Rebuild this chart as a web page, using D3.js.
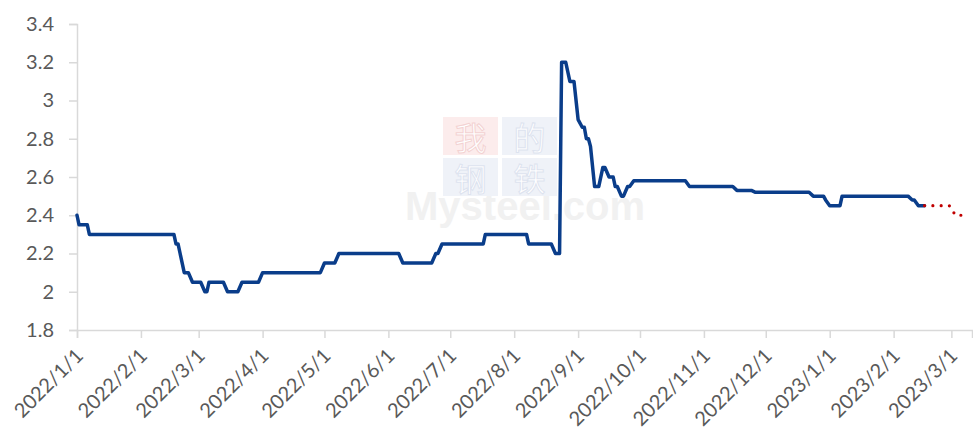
<!DOCTYPE html>
<html>
<head>
<meta charset="utf-8">
<script src="https://cdn.jsdelivr.net/npm/d3@7"></script>
<style>
  body { margin: 0; background: #fff; }
  svg { display: block; }
</style>
</head>
<body>
<div id="chart"></div>
<script>
// Price series (change points of a step-like daily series)
const actualDates = [
  "2022-01-01", "2022-01-02", "2022-01-06", "2022-01-07", "2022-02-17", "2022-02-18", "2022-02-19",
  "2022-02-20", "2022-02-22", "2022-02-24", "2022-02-26", "2022-03-02", "2022-03-04", "2022-03-05",
  "2022-03-06", "2022-03-13", "2022-03-15", "2022-03-20", "2022-03-22", "2022-03-30", "2022-04-01",
  "2022-04-29", "2022-05-01", "2022-05-06", "2022-05-08", "2022-06-06", "2022-06-08", "2022-06-22",
  "2022-06-24", "2022-06-25", "2022-06-27", "2022-07-17", "2022-07-18", "2022-08-07", "2022-08-08",
  "2022-08-19", "2022-08-21", "2022-08-23", "2022-08-24", "2022-08-26", "2022-08-28", "2022-08-30",
  "2022-08-31", "2022-09-01", "2022-09-03", "2022-09-04", "2022-09-05", "2022-09-06", "2022-09-07",
  "2022-09-09", "2022-09-11", "2022-09-13", "2022-09-14", "2022-09-16", "2022-09-18", "2022-09-19",
  "2022-09-20", "2022-09-22", "2022-09-23", "2022-09-25", "2022-09-26", "2022-09-28", "2022-10-23",
  "2022-10-25", "2022-11-15", "2022-11-17", "2022-11-24", "2022-11-26", "2022-12-22", "2022-12-24",
  "2022-12-29", "2022-12-30", "2023-01-01", "2023-01-06", "2023-01-07", "2023-02-08", "2023-02-10",
  "2023-02-11", "2023-02-13", "2023-02-16"
];
const actualValues = [
  2.40, 2.35, 2.35, 2.30, 2.30, 2.25, 2.25,
  2.20, 2.10, 2.10, 2.05, 2.05, 2.00, 2.00,
  2.05, 2.05, 2.00, 2.00, 2.05, 2.05, 2.10,
  2.10, 2.15, 2.15, 2.20, 2.20, 2.15, 2.15,
  2.20, 2.20, 2.25, 2.25, 2.30, 2.30, 2.25,
  2.25, 2.20, 2.20, 3.20, 3.20, 3.10, 3.10,
  3.00, 2.90, 2.86, 2.86, 2.80, 2.80, 2.76,
  2.55, 2.55, 2.65, 2.65, 2.60, 2.60, 2.55,
  2.55, 2.50, 2.50, 2.55, 2.55, 2.58, 2.58,
  2.55, 2.55, 2.53, 2.53, 2.52, 2.52, 2.50,
  2.50, 2.48, 2.45, 2.45, 2.50, 2.50, 2.48,
  2.48, 2.45, 2.45
];

// Forecast (dotted red)
const forecastDates = ["2023-02-16", "2023-02-28", "2023-03-03", "2023-03-09"];
const forecastValues = [2.45, 2.45, 2.40, 2.40];

const yTicks = [1.8, 2.0, 2.2, 2.4, 2.6, 2.8, 3.0, 3.2, 3.4];

const parse = d3.timeParse("%Y-%m-%d");
const actual = actualDates.map((d, i) => ({ date: parse(d), value: actualValues[i] }));
const forecast = forecastDates.map((d, i) => ({ date: parse(d), value: forecastValues[i] }));

const width = 973, height = 434;
const svg = d3.select("#chart").append("svg")
  .attr("width", width)
  .attr("height", height);

const x = d3.scaleTime()
  .domain([parse("2022-01-01"), parse("2023-03-11")])
  .range([77, 972]);

const y = d3.scaleLinear()
  .domain([1.8, 3.4])
  .range([330, 24]);

const gridColor = "#d9d9d9";
const textColor = "#595959";
const font = "Lato, 'Open Sans', sans-serif";

// Watermark
const wm = svg.append("g").attr("class", "watermark");
wm.append("text")
  .attr("x", 405).attr("y", 220)
  .attr("font-family", "'Liberation Sans', Arial, sans-serif")
  .attr("font-weight", "bold")
  .attr("font-size", 40)
  .attr("fill", "#f1f1f1")
  .text("Mysteel.com");
const boxes = [
  { ch: "我", bx: 443, by: 117, fill: "#fcecec", stroke: "#f3d2d2" },
  { ch: "的", bx: 502, by: 117, fill: "#eff2f8", stroke: "#dde3ef" },
  { ch: "钢", bx: 443, by: 158, fill: "#eff2f8", stroke: "#dde3ef" },
  { ch: "铁", bx: 502, by: 158, fill: "#eff2f8", stroke: "#dde3ef" }
];
boxes.forEach(b => {
  wm.append("rect")
    .attr("x", b.bx).attr("y", b.by)
    .attr("width", 55).attr("height", 38)
    .attr("fill", b.fill);
  wm.append("text")
    .attr("x", b.bx + 27.5).attr("y", b.by + 19)
    .attr("text-anchor", "middle")
    .attr("dominant-baseline", "central")
    .attr("font-family", "'Noto Sans CJK SC', sans-serif")
    .attr("font-size", 32)
    .attr("fill", "#ffffff")
    .attr("stroke", b.stroke)
    .attr("stroke-width", 1)
    .text(b.ch);
});

// Y axis
const yAxis = svg.append("g")
  .attr("transform", "translate(77,0)")
  .call(d3.axisLeft(y).tickValues(yTicks).tickSize(8).tickPadding(15)
    .tickFormat(d => String(+d.toFixed(1))));
yAxis.select(".domain").attr("stroke", gridColor).attr("stroke-width", 1.5);
yAxis.selectAll(".tick line").attr("stroke", gridColor).attr("stroke-width", 1.5);
yAxis.selectAll(".tick text")
  .attr("fill", textColor)
  .style("font-family", font)
  .style("font-size", "20px");

// X axis
const xAxis = svg.append("g")
  .attr("transform", "translate(0,330)")
  .call(d3.axisBottom(x).ticks(d3.timeMonth.every(1)).tickSizeOuter(0).tickSize(8)
    .tickFormat(d3.timeFormat("%Y/%-m/%-d")));
xAxis.select(".domain").attr("stroke", gridColor).attr("stroke-width", 1.5);
xAxis.selectAll(".tick line").attr("stroke", gridColor).attr("stroke-width", 1.5);
xAxis.selectAll(".tick text")
  .attr("fill", textColor)
  .style("font-family", font)
  .style("font-size", "20px")
  .attr("text-anchor", "end")
  .attr("dy", "0.35em")
  .attr("transform", "translate(2,22) rotate(-45)")
  .attr("x", 0).attr("y", 0);

// Lines
const line = d3.line()
  .x(d => x(d.date))
  .y(d => y(d.value));

svg.append("path")
  .datum(actual)
  .attr("fill", "none")
  .attr("stroke", "#0a3d8a")
  .attr("stroke-width", 3.5)
  .attr("stroke-linejoin", "round")
  .attr("stroke-linecap", "round")
  .attr("d", line);

svg.append("path")
  .datum(forecast)
  .attr("fill", "none")
  .attr("stroke", "#c00000")
  .attr("stroke-width", 3.2)
  .attr("stroke-linecap", "round")
  .attr("stroke-dasharray", "0 8.3")
  .attr("d", line);
</script>
</body>
</html>
